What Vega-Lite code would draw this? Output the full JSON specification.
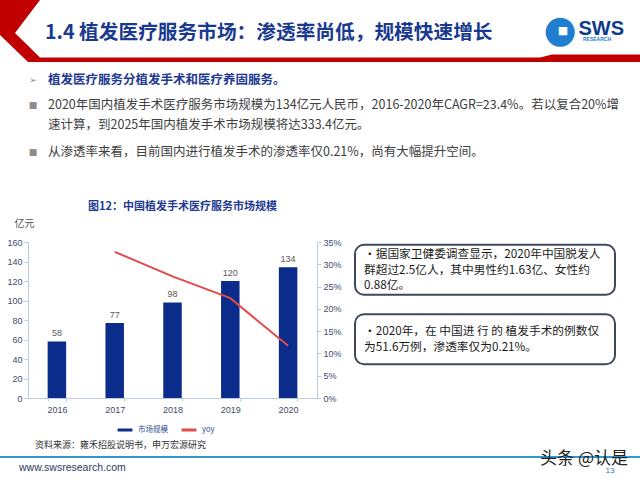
{
  "$schema": "https://vega.github.io/schema/vega-lite/v6.json",
  "padding": 0,
  "background": "#ffffff",
  "config": {"view": {"stroke": null}, "font": "Noto Sans CJK SC"},
  "columns": 1,
  "align": "none",
  "spacing": 31,
  "concat": [
    {
      "columns": 1,
      "align": "none",
      "spacing": 0,
      "concat": [
        {
          "width": 612,
          "height": 62,
          "layer": [
            {
              "data": {"values": [{"part": "ribbon"}]},
              "mark": {"type": "point", "shape": "M-1,-1.107L0.429,-1.107L-0.464,0.071L0.429,0.946L18.286,0.946L18.714,0.839L21.857,0.839L21.857,1.107L0,1.107L-1,0.143Z", "size": 3136, "filled": true, "color": "#C00000", "opacity": 1, "strokeWidth": 0},
              "encoding": {"x": {"datum": "left", "type": "nominal", "scale": {"type": "point", "domain": ["left", "right"], "padding": 0}, "axis": null}}
            },
            {
              "data": {"values": [{"text": "1.4 植发医疗服务市场：渗透率尚低，规模快速增长"}]},
              "mark": {"type": "text", "align": "left", "baseline": "middle", "dx": 17, "dy": 2, "fontSize": 19.7, "fontWeight": "bold", "color": "#1A3A8F"},
              "encoding": {"x": {"datum": "left", "type": "nominal", "scale": {"type": "point", "domain": ["left", "right"], "padding": 0}, "axis": null}, "text": {"field": "text"}}
            },
            {
              "data": {"values": [{"text": "●"}]},
              "mark": {"type": "text", "align": "center", "baseline": "middle", "dx": -80, "dy": 0, "font": "DejaVu Sans", "fontSize": 38, "color": "#1E7FD0"},
              "encoding": {"x": {"datum": "right", "type": "nominal", "scale": {"type": "point", "domain": ["left", "right"], "padding": 0}, "axis": null}, "text": {"field": "text"}}
            },
            {
              "data": {"values": [{"text": "■"}]},
              "mark": {"type": "text", "align": "center", "baseline": "middle", "dx": -77, "dy": 0, "font": "DejaVu Sans", "fontSize": 11, "color": "#ffffff"},
              "encoding": {"x": {"datum": "right", "type": "nominal", "scale": {"type": "point", "domain": ["left", "right"], "padding": 0}, "axis": null}, "text": {"field": "text"}}
            },
            {
              "data": {"values": [{"text": "SWS"}]},
              "mark": {"type": "text", "align": "right", "baseline": "middle", "dx": -16, "dy": -2, "font": "Liberation Sans", "fontSize": 20, "fontWeight": "bold", "color": "#0D3C8A"},
              "encoding": {"x": {"datum": "right", "type": "nominal", "scale": {"type": "point", "domain": ["left", "right"], "padding": 0}, "axis": null}, "text": {"field": "text"}}
            },
            {
              "data": {"values": [{"text": "RESEARCH"}]},
              "mark": {"type": "text", "align": "left", "baseline": "middle", "dx": -57, "dy": 8, "font": "Liberation Sans", "fontSize": 5, "fontWeight": "bold", "color": "#1E7FD0"},
              "encoding": {"x": {"datum": "right", "type": "nominal", "scale": {"type": "point", "domain": ["left", "right"], "padding": 0}, "axis": null}, "text": {"field": "text"}}
            }
          ]
        },
        {
          "width": 612,
          "height": 108,
          "data": {"values": [
            {"para": 1, "level": "lead", "bullet": "➢", "text": "植发医疗服务分植发手术和医疗养固服务。"},
            {"para": 2, "level": "body2", "bullet": "■", "text": "2020年国内植发手术医疗服务市场规模为134亿元人民币，2016-2020年CAGR=23.4%。若以复合20%增\n速计算，到2025年国内植发手术市场规模将达333.4亿元。"},
            {"para": 3, "level": "body", "bullet": "■", "text": "从渗透率来看，目前国内进行植发手术的渗透率仅0.21%，尚有大幅提升空间。"}
          ]},
          "encoding": {
            "x": {"datum": "left", "type": "nominal", "scale": {"type": "point", "domain": ["left", "right"], "padding": 0}, "axis": null},
            "y": {"field": "para", "type": "ordinal", "scale": {"type": "point", "padding": 0.5}, "axis": null}
          },
          "layer": [
            {
              "transform": [{"filter": "datum.level != 'body2'"}],
              "mark": {"type": "text", "align": "center", "baseline": "middle", "dx": 5, "font": "DejaVu Sans", "fontSize": 9, "color": "#8C8C8C"},
              "encoding": {"text": {"field": "bullet"}}
            },
            {
              "transform": [{"filter": "datum.level == 'body2'"}],
              "mark": {"type": "text", "align": "center", "baseline": "middle", "dx": 5, "dy": -11, "font": "DejaVu Sans", "fontSize": 9, "color": "#8C8C8C"},
              "encoding": {"text": {"field": "bullet"}}
            },
            {
              "transform": [{"filter": "datum.level == 'lead'"}],
              "mark": {"type": "text", "align": "left", "baseline": "middle", "dx": 20, "fontSize": 12.5, "fontWeight": "bold", "color": "#1F3A93"},
              "encoding": {"text": {"field": "text"}}
            },
            {
              "transform": [{"filter": "datum.level == 'body'"}],
              "mark": {"type": "text", "align": "left", "baseline": "middle", "dx": 20, "fontSize": 12.5, "color": "#404040"},
              "encoding": {"text": {"field": "text"}}
            },
            {
              "transform": [{"filter": "datum.level == 'body2'"}],
              "mark": {"type": "text", "align": "left", "baseline": "middle", "dx": 20, "dy": -11, "fontSize": 12.5, "color": "#404040", "lineBreak": "\n", "lineHeight": 20},
              "encoding": {"text": {"field": "text"}}
            }
          ]
        }
      ]
    },
    {
      "columns": 1,
      "align": "none",
      "spacing": 23,
      "concat": [
        {
          "spacing": 12,
          "hconcat": [
            {
              "width": 289,
              "height": 156,
              "title": {"text": "图12：中国植发手术医疗服务市场规模", "fontSize": 11, "fontWeight": "bold", "color": "#1F3A93", "anchor": "middle", "frame": "group", "dx": 10, "offset": 6},
              "data": {"values": [
                {"year": "2016", "size": 58, "yoy": null},
                {"year": "2017", "size": 77, "yoy": 32.8},
                {"year": "2018", "size": 98, "yoy": 27.3},
                {"year": "2019", "size": 120, "yoy": 22.4},
                {"year": "2020", "size": 134, "yoy": 11.7}
              ]},
              "encoding": {
                "x": {"field": "year", "type": "ordinal", "scale": {"paddingInner": 0.68, "paddingOuter": 0.34}, "axis": {"title": null, "labelAngle": 0, "labelFont": "Liberation Sans", "labelFontSize": 9, "labelColor": "#3E4C6E", "domainColor": "#BCCBDD", "tickColor": "#BCCBDD", "tickBand": "extent", "tickSize": 3, "labelPadding": 4}}
              },
              "layer": [
                {
                  "encoding": {"y": {"field": "size", "type": "quantitative", "scale": {"domain": [0, 160]}, "axis": {"values": [0, 20, 40, 60, 80, 100, 120, 140, 160], "grid": false, "title": "亿元", "titleAngle": 0, "titleX": -4, "titleY": -19, "titleAlign": "center", "titleBaseline": "middle", "titleFontSize": 10, "titleFontWeight": "normal", "titleColor": "#555555", "titlePadding": 0, "labelFont": "Liberation Sans", "labelFontSize": 9, "labelColor": "#3E4C6E", "labelPadding": 2, "domainColor": "#BCCBDD", "tickColor": "#BCCBDD", "tickSize": 4, "minExtent": 28, "maxExtent": 28}}},
                  "layer": [
                    {
                      "mark": {"type": "bar"},
                      "encoding": {"color": {"datum": "市场规模", "type": "nominal", "scale": {"domain": ["市场规模", "yoy"], "range": ["#0C2C8C", "#E04B4B"]}, "legend": {"orient": "none", "legendX": 88, "legendY": 421, "direction": "horizontal", "title": null, "symbolType": "stroke", "symbolStrokeWidth": 3, "symbolSize": 220, "labelFont": "Noto Sans CJK SC", "labelFontSize": 7.5, "labelColor": "#2F4A8F", "columnPadding": 7, "labelOffset": 4, "padding": 0}}}
                    },
                    {
                      "mark": {"type": "text", "dy": -8, "font": "Liberation Sans", "fontSize": 9, "color": "#595959"},
                      "encoding": {"text": {"field": "size", "type": "quantitative"}}
                    }
                  ]
                },
                {
                  "transform": [{"filter": "datum.yoy != null"}],
                  "mark": {"type": "line", "strokeWidth": 2},
                  "encoding": {
                    "y": {"field": "yoy", "type": "quantitative", "scale": {"domain": [0, 35]}, "axis": {"orient": "right", "values": [0, 5, 10, 15, 20, 25, 30, 35], "labelExpr": "datum.value + '%'", "grid": false, "title": null, "labelFont": "Liberation Sans", "labelFontSize": 9, "labelColor": "#3E4C6E", "labelPadding": 2, "domainColor": "#BCCBDD", "tickColor": "#BCCBDD", "tickSize": 4, "minExtent": 20}},
                    "color": {"datum": "yoy", "type": "nominal"}
                  }
                }
              ],
              "resolve": {"scale": {"y": "independent"}}
            },
            {
              "width": 260,
              "height": 125,
              "data": {"values": [
                {"box": 1, "text": "·据国家卫健委调查显示，2020年中国脱发人\n群超过2.5亿人，其中男性约1.63亿、女性约\n0.88亿。"},
                {"box": 2, "text": "·2020年，在 中国进 行 的 植发手术的例数仅\n为51.6万例，渗透率仅为0.21%。"}
              ]},
              "encoding": {
                "y": {"field": "box", "type": "ordinal", "scale": {"paddingInner": 0.28, "paddingOuter": 0.04}, "axis": null},
                "x": {"datum": "left", "type": "nominal", "scale": {"type": "point", "domain": ["left", "right"], "padding": 0}, "axis": null}
              },
              "layer": [
                {
                  "mark": {"type": "rect", "fill": "#ffffff", "stroke": "#3E4A5C", "strokeWidth": 2, "cornerRadius": 9},
                  "encoding": {"x": null}
                },
                {
                  "transform": [{"filter": "datum.box == 1"}],
                  "mark": {"type": "text", "align": "left", "baseline": "middle", "dx": 9, "dy": -15.5, "fontSize": 11.7, "color": "#1A1A1A", "lineBreak": "\n", "lineHeight": 15.5},
                  "encoding": {"text": {"field": "text"}}
                },
                {
                  "transform": [{"filter": "datum.box == 2"}],
                  "mark": {"type": "text", "align": "left", "baseline": "middle", "dx": 9, "dy": -8, "fontSize": 11.7, "color": "#1A1A1A", "lineBreak": "\n", "lineHeight": 15.5},
                  "encoding": {"text": {"field": "text"}}
                }
              ]
            }
          ]
        },
        {
          "width": 612,
          "height": 44,
          "layer": [
            {
              "data": {"values": [{"part": "footer rule"}]},
              "mark": {"type": "point", "shape": "M-1,-0.107L21.857,-0.107L21.857,-0.036L-1,-0.036Z", "size": 3136, "filled": true, "color": "#2E9BD0", "opacity": 1, "strokeWidth": 0},
              "encoding": {"x": {"datum": "left", "type": "nominal", "scale": {"type": "point", "domain": ["left", "right"], "padding": 0}, "axis": null}}
            },
            {
              "data": {"values": [{"text": "资料来源：雍禾招股说明书，申万宏源研究"}]},
              "mark": {"type": "text", "align": "left", "baseline": "middle", "dx": 7, "dy": -14, "fontSize": 9, "color": "#333333"},
              "encoding": {"x": {"datum": "left", "type": "nominal", "scale": {"type": "point", "domain": ["left", "right"], "padding": 0}, "axis": null}, "text": {"field": "text"}}
            },
            {
              "data": {"values": [{"text": "www.swsresearch.com"}]},
              "mark": {"type": "text", "align": "left", "baseline": "middle", "dx": -9, "dy": 9, "font": "Liberation Sans", "fontSize": 10.5, "color": "#2B3A67"},
              "encoding": {"x": {"datum": "left", "type": "nominal", "scale": {"type": "point", "domain": ["left", "right"], "padding": 0}, "axis": null}, "text": {"field": "text"}}
            },
            {
              "data": {"values": [{"text": "13"}]},
              "mark": {"type": "text", "align": "center", "baseline": "middle", "dx": -30, "dy": 12, "font": "Liberation Sans", "fontSize": 8, "color": "#4472C4"},
              "encoding": {"x": {"datum": "right", "type": "nominal", "scale": {"type": "point", "domain": ["left", "right"], "padding": 0}, "axis": null}, "text": {"field": "text"}}
            },
            {
              "data": {"values": [{"text": "头条 @认是"}]},
              "mark": {"type": "text", "align": "right", "baseline": "middle", "dx": -12, "dy": 0, "fontSize": 17, "color": "#222222"},
              "encoding": {"x": {"datum": "right", "type": "nominal", "scale": {"type": "point", "domain": ["left", "right"], "padding": 0}, "axis": null}, "text": {"field": "text"}}
            }
          ]
        }
      ]
    }
  ]
}
